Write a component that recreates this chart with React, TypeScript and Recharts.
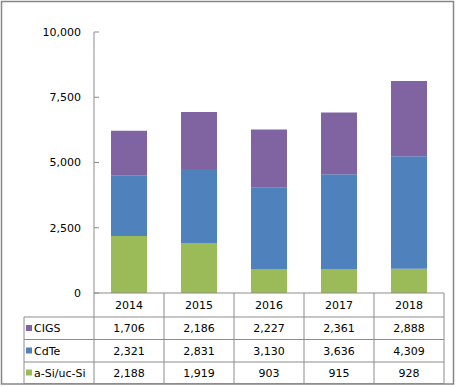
import React from 'react';
import { BarChart, Bar, XAxis, YAxis, Customized } from 'recharts';

const years = ['2014', '2015', '2016', '2017', '2018'];
const cigs = [1706, 2186, 2227, 2361, 2888];
const cdte = [2321, 2831, 3130, 3636, 4309];
const asi = [2188, 1919, 903, 915, 928];
const yTicks = [0, 2500, 5000, 7500, 10000];

const seriesNames = ['CIGS', 'CdTe', 'a-Si/uc-Si'];
const seriesColors = ['#8064A2', '#4F81BD', '#9BBB59'];
const tableRows = [cigs, cdte, asi];

const data = years.map((y, i) => ({ year: y, cigs: cigs[i], cdte: cdte[i], asi: asi[i] }));

const W = 466;
const H = 387;
const PLOT_LEFT = 94;
const PLOT_RIGHT = 444;
const PLOT_TOP = 32;
const PLOT_BOTTOM = 293;
const ROW_LINES = [317, 339.5, 362, 383.5];
const ROW_CENTERS = [305.5, 328.5, 351, 373];
const LEGEND_LEFT = 24;
const GRID = '#8c8c8c';
const FONT = 'DejaVu Sans, Verdana, sans-serif';
const fmt = (v: number) => v.toLocaleString('en-US');

const YTick = (props: any) => {
  const { y, payload } = props;
  return (
    <g>
      <line x1={PLOT_LEFT} x2={PLOT_LEFT + 5} y1={y} y2={y} stroke={GRID} />
      <text x={81} y={y} dy="0.355em" textAnchor="end" fontSize={11} fontFamily={FONT} fill="#000">
        {fmt(payload.value)}
      </text>
    </g>
  );
};

const XTick = (props: any) => {
  const { x, payload, index } = props;
  const band = (PLOT_RIGHT - PLOT_LEFT) / years.length;
  const l = x - band / 2;
  const r = x + band / 2;
  return (
    <g>
      {index === 0 && <line x1={l} x2={l} y1={PLOT_BOTTOM} y2={ROW_LINES[3]} stroke={GRID} />}
      <line x1={r} x2={r} y1={PLOT_BOTTOM} y2={ROW_LINES[3]} stroke={GRID} />
      {ROW_LINES.map((ly, k) => (
        <line key={k} x1={l} x2={r} y1={ly} y2={ly} stroke={GRID} />
      ))}
      <text x={x} y={ROW_CENTERS[0]} dy="0.355em" textAnchor="middle" fontSize={11} fontFamily={FONT} fill="#000">
        {payload.value}
      </text>
      {tableRows.map((row, k) => (
        <text key={k} x={x} y={ROW_CENTERS[k + 1]} dy="0.355em" textAnchor="middle" fontSize={11} fontFamily={FONT} fill="#000">
          {fmt(row[index])}
        </text>
      ))}
    </g>
  );
};

const Frame = () => (
  <g>
    <rect x={1.5} y={1.5} width={452} height={382.5} fill="none" stroke="#868686" strokeWidth={1.5} />
    <line x1={LEGEND_LEFT} x2={LEGEND_LEFT} y1={ROW_LINES[0]} y2={ROW_LINES[3]} stroke={GRID} />
    {ROW_LINES.map((ly, k) => (
      <line key={k} x1={LEGEND_LEFT} x2={PLOT_LEFT} y1={ly} y2={ly} stroke={GRID} />
    ))}
    {seriesNames.map((n, k) => (
      <g key={n}>
        <rect x={26} y={ROW_CENTERS[k + 1] - 3.5} width={6} height={6} fill={seriesColors[k]} />
        <text x={34} y={ROW_CENTERS[k + 1]} dy="0.355em" fontSize={11} fontFamily={FONT} fill="#000">
          {n}
        </text>
      </g>
    ))}
  </g>
);

export default function App() {
  return (
    <div style={{ position: 'absolute', left: 0, top: 0, width: W, height: H, background: '#fff' }}>
      <BarChart
        width={W}
        height={H}
        data={data}
        margin={{ top: PLOT_TOP, right: W - PLOT_RIGHT, bottom: 0, left: 0 }}
      >
        <YAxis
          width={PLOT_LEFT}
          domain={[0, 10000]}
          ticks={yTicks}
          interval={0}
          axisLine={{ stroke: GRID }}
          tickLine={false}
          tick={<YTick />}
        />
        <XAxis
          dataKey="year"
          axisLine={{ stroke: GRID }}
          tickLine={false}
          interval={0}
          height={H - PLOT_BOTTOM}
          tick={<XTick />}
        />
        <Bar dataKey="asi" stackId="a" fill={seriesColors[2]} barSize={36} isAnimationActive={false} />
        <Bar dataKey="cdte" stackId="a" fill={seriesColors[1]} barSize={36} isAnimationActive={false} />
        <Bar dataKey="cigs" stackId="a" fill={seriesColors[0]} barSize={36} isAnimationActive={false} />
        <Customized component={Frame} />
      </BarChart>
    </div>
  );
}
